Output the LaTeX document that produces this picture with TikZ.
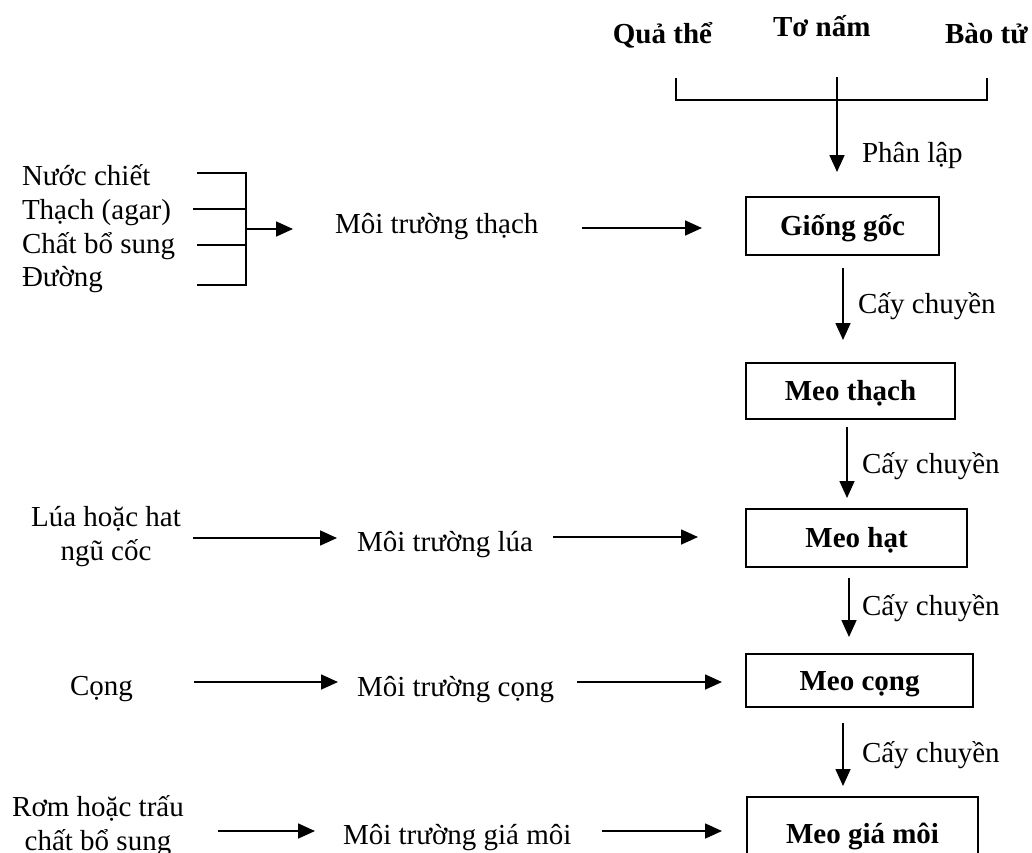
\documentclass[tikz,border=0pt]{standalone}
\usepackage{fontspec}
\setmainfont{Liberation Serif}
\usetikzlibrary{arrows.meta}
\begin{document}
\begin{tikzpicture}[x=1pt,y=-1pt,
  every node/.style={inner sep=0pt, outer sep=0pt, font=\fontsize{29}{34}\selectfont},
  lbl/.style={anchor=base west},
  head/.style={font=\fontsize{29}{34}\selectfont\bfseries},
  stage/.style={draw, line width=1.7pt, font=\fontsize{29}{34}\selectfont\bfseries,
                text height=22pt, text depth=3pt},
  pair/.style={align=center, anchor=center},
  link/.style={line width=1.7pt},
  arr/.style={link, -{Triangle[length=17pt,width=15pt]}},
]
\useasboundingbox (0,0) rectangle (1032,852);
\clip (0,0) rectangle (1032,852);

% source material
\node[head, anchor=base east] (quathe) at (712,43) {Quả thể};
\node[head, anchor=base west] (tonam)  at (773,36) {Tơ nấm};
\node[head, anchor=base west] (baotu)  at (945,43) {Bào tử};

% culture stages
\node[stage, minimum width=193pt, minimum height=58pt] (giong)    at (842.5,226)   {Giống gốc};
\node[stage, minimum width=209pt, minimum height=56pt] (meothach) at (850.5,391)   {Meo thạch};
\node[stage, minimum width=221pt, minimum height=58pt] (meohat)   at (856.5,538)   {Meo hạt};
\node[stage, minimum width=227pt, minimum height=53pt] (meocong)  at (859.5,680.5) {Meo cọng};
\node[stage, minimum width=231pt, minimum height=73pt] (meogia)   at (862.5,833.5) {Meo giá môi};

% bracket joining the three sources
\coordinate (bL) at (676,78);
\coordinate (bR) at (987,78);
\coordinate (bM) at (837,77);
\draw[link] (bL) -- ++(0,22) -| (bR);
\draw[arr, shorten >=25pt] (bM) -- (bM |- giong.north);
\node[lbl] (phanlap) at (862,162) {Phân lập};

% transfers between stages
\coordinate (c1) at (843,268);
\coordinate (c2) at (847,427);
\coordinate (c3) at (849,578);
\coordinate (c4) at (843,723);
\draw[arr, shorten >=23pt] (c1) -- (c1 |- meothach.north);
\draw[arr, shorten >=11pt] (c2) -- (c2 |- meohat.north);
\draw[arr, shorten >=17pt] (c3) -- (c3 |- meocong.north);
\draw[arr, shorten >=11pt] (c4) -- (c4 |- meogia.north);
\node[lbl] (cc1) at (858,313) {Cấy chuyền};
\node[lbl] (cc2) at (862,473) {Cấy chuyền};
\node[lbl] (cc3) at (862,615) {Cấy chuyền};
\node[lbl] (cc4) at (862,762) {Cấy chuyền};

% agar medium ingredients
\node[lbl] (nuoc)  at (22,185) {Nước chiết};
\node[lbl] (thach) at (22,219) {Thạch (agar)};
\node[lbl] (chat)  at (22,253) {Chất bổ sung};
\node[lbl] (duong) at (22,286) {Đường};
\coordinate (j1) at (197,173);
\coordinate (j2) at (193,209);
\coordinate (j3) at (197,245);
\coordinate (j4) at (197,285);
\coordinate (jo) at (246,229);
\draw[link] (j1) -| (246,285) -- (j4);
\draw[link] (j2) -- (j2 -| jo);
\draw[link] (j3) -- (j3 -| jo);
\node[lbl] (mtthach) at (335,233) {Môi trường thạch};
\draw[arr, shorten >=42pt] (jo) -- (jo -| mtthach.west);
\coordinate (h1) at (582,228);
\draw[arr, shorten >=44pt] (h1) -- (h1 -| giong.west);

% grain medium
\node[pair] (lua) at (106,537) {Lúa hoặc hat\\ngũ cốc};
\node[lbl] (mtlua) at (357,551) {Môi trường lúa};
\coordinate (l1) at (193,538);
\coordinate (l2) at (553,537);
\draw[arr, shorten >=20pt] (l1) -- (l1 -| mtlua.west);
\draw[arr, shorten >=48pt] (l2) -- (l2 -| meohat.west);

% stalk medium
\node[lbl] (cong) at (70,695) {Cọng};
\node[lbl] (mtcong) at (357,696) {Môi trường cọng};
\coordinate (k1) at (194,682);
\coordinate (k2) at (577,682);
\draw[arr, shorten >=19pt] (k1) -- (k1 -| mtcong.west);
\draw[arr, shorten >=24pt] (k2) -- (k2 -| meocong.west);

% substrate medium
\node[pair] (rom) at (98,826) {Rơm hoặc trấu\\chất bổ sung};
\node[lbl] (mtgia) at (343,844) {Môi trường giá môi};
\coordinate (g1) at (218,831);
\coordinate (g2) at (602,831);
\draw[arr, shorten >=28pt] (g1) -- (g1 -| mtgia.west);
\draw[arr, shorten >=25pt] (g2) -- (g2 -| meogia.west);
\end{tikzpicture}
\end{document}
